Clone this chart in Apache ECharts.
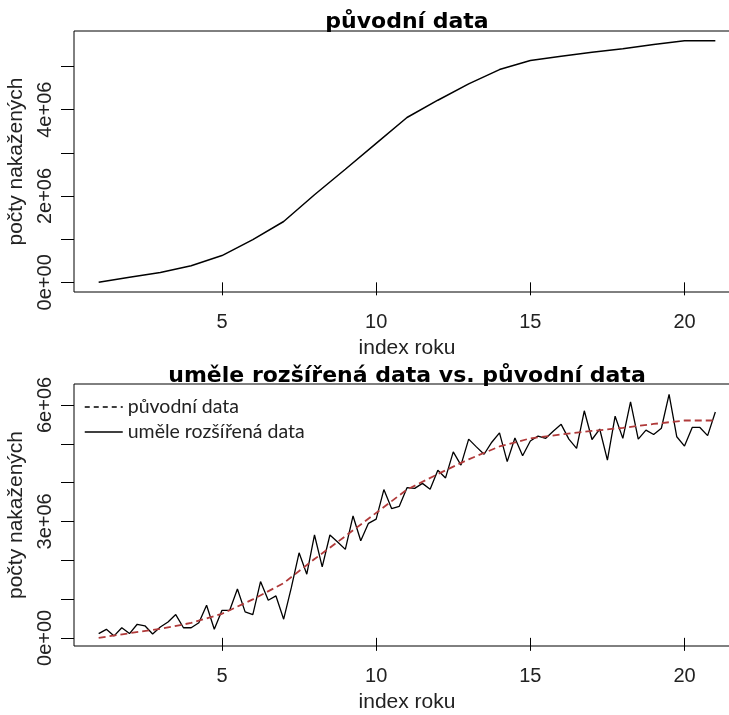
<!DOCTYPE html>
<html>
<head>
<meta charset="utf-8">
<script src="https://cdn.jsdelivr.net/npm/echarts@6/dist/echarts.min.js"></script>
<style>
html,body{margin:0;padding:0;background:#fff;}
#chart{width:729px;height:715px;}
</style>
</head>
<body>
<div id="chart"></div>
<script>
// ---- data ----
const yearIndex = [1,2,3,4,5,6,7,8,9,10,11,12,13,14,15,16,17,18,19,20,21];
const originalCases = [0, 0.12e6, 0.23e6, 0.385e6, 0.62e6, 0.99e6, 1.41e6, 2.03e6, 2.62e6, 3.22e6,
  3.82e6, 4.22e6, 4.60e6, 4.93e6, 5.14e6, 5.24e6, 5.33e6, 5.41e6, 5.51e6, 5.60e6, 5.60e6];
const extendedStep = 0.25;
const extendedCases = [
  0.11e6, 0.22e6, 0.05e6, 0.26e6, 0.11e6, 0.35e6, 0.31e6, 0.10e6, 0.28e6, 0.41e6,
  0.60e6, 0.26e6, 0.26e6, 0.39e6, 0.84e6, 0.22e6, 0.71e6, 0.71e6, 1.26e6, 0.67e6,
  0.60e6, 1.45e6, 0.97e6, 1.08e6, 0.48e6, 1.30e6, 2.19e6, 1.64e6, 2.65e6, 1.83e6,
  2.65e6, 2.47e6, 2.28e6, 3.14e6, 2.50e6, 2.95e6, 3.06e6, 3.82e6, 3.33e6, 3.39e6,
  3.87e6, 3.85e6, 3.98e6, 3.83e6, 4.32e6, 4.12e6, 4.79e6, 4.45e6, 5.12e6, 4.92e6,
  4.73e6, 5.04e6, 5.28e6, 4.54e6, 5.15e6, 4.69e6, 5.07e6, 5.20e6, 5.14e6, 5.33e6,
  5.50e6, 5.12e6, 4.88e6, 5.85e6, 5.11e6, 5.38e6, 4.58e6, 5.71e6, 5.14e6, 6.08e6,
  5.12e6, 5.35e6, 5.24e6, 5.40e6, 6.27e6, 5.18e6, 4.94e6, 5.42e6, 5.42e6, 5.21e6,
  5.82e6
];
const xTicks = [5, 10, 15, 20];
const topYTicks = [0, 1e6, 2e6, 3e6, 4e6, 5e6];
const topYLabelValues = [0, 2e6, 4e6];
const topYLabels = ['0e+00', '2e+06', '4e+06'];
const botYTicks = [0, 1e6, 2e6, 3e6, 4e6, 5e6, 6e6];
const botYLabelValues = [0, 3e6, 6e6];
const botYLabels = ['0e+00', '3e+06', '6e+06'];
const titleTop = 'původní data';
const titleBottom = 'uměle rozšířená data vs. původní data';
const xName = 'index roku';
const yName = 'počty nakažených';
const nameOriginal = 'původní data';
const nameExtended = 'uměle rozšířená data';

// ---- build ----
const topData = yearIndex.map((x, i) => [x, originalCases[i]]);
const extData = extendedCases.map((v, i) => [yearIndex[0] + i * extendedStep, v]);

function labelFmt(values, labels) {
  return function (v) {
    const k = values.findIndex(t => Math.abs(t - v) < 1);
    return k >= 0 ? labels[k] : '';
  };
}

const axisFont = { fontFamily: 'Liberation Sans, Arial, sans-serif', fontSize: 20, color: '#222' };

function xAxisDef(gridIndex) {
  return {
    type: 'value', gridIndex, min: 0.2, max: 21.8,
    axisLine: { show: false },
    splitLine: { show: false },
    axisTick: { show: true, inside: false, length: 13, customValues: xTicks, lineStyle: { color: '#000', width: 1 } },
    axisLabel: Object.assign({ show: true, margin: 20, customValues: xTicks }, axisFont),
    name: xName, nameLocation: 'middle', nameGap: 46,
    nameTextStyle: { fontFamily: 'Liberation Sans, Arial, sans-serif', fontSize: 21, color: '#222' }
  };
}
function yAxisDef(gridIndex, min, max, ticks, lv, ll) {
  return {
    type: 'value', gridIndex, min, max,
    axisLine: { show: false },
    splitLine: { show: false },
    axisTick: { show: true, inside: false, length: 13, customValues: ticks, lineStyle: { color: '#000', width: 1 } },
    axisLabel: Object.assign({ show: true, margin: 19, rotate: 90, customValues: lv, formatter: labelFmt(lv, ll) }, axisFont),
    name: yName, nameLocation: 'middle', nameGap: 38, nameRotate: 90,
    nameTextStyle: { fontFamily: 'Liberation Sans, Arial, sans-serif', fontSize: 21, color: '#222' }
  };
}

const noSymbol = { color: 'rgba(0,0,0,0)', borderColor: 'rgba(0,0,0,0)', borderWidth: 0, opacity: 0 };

const chart = echarts.init(document.getElementById('chart'), null, { renderer: 'canvas' });
chart.setOption({
  animation: false,
  backgroundColor: '#fff',
  title: [
    { text: titleTop, left: 407, top: 22, padding: 0, textAlign: 'center', textVerticalAlign: 'middle',
      textStyle: { fontFamily: 'DejaVu Sans', fontWeight: 'bold', fontSize: 22, color: '#000' } },
    { text: titleBottom, left: 407, top: 376, padding: 0, textAlign: 'center', textVerticalAlign: 'middle',
      textStyle: { fontFamily: 'DejaVu Sans', fontWeight: 'bold', fontSize: 22, color: '#000' } }
  ],
  legend: {
    orient: 'vertical', left: 84, top: 397, padding: 0,
    itemWidth: 38, itemHeight: 14, itemGap: 5,
    textStyle: { fontFamily: 'Lato', fontSize: 19.5, color: '#222', lineHeight: 20 },
    data: [
      { name: nameOriginal, lineStyle: { color: '#000', type: [5, 4], width: 1.5 }, itemStyle: noSymbol },
      { name: nameExtended, lineStyle: { color: '#000', type: 'solid', width: 1.5 }, itemStyle: noSymbol }
    ]
  },
  grid: [
    { left: 74, top: 31, width: 666, height: 261, show: true, borderColor: '#000', borderWidth: 1,
      backgroundColor: 'transparent', containLabel: false, outerBoundsMode: 'none' },
    { left: 74, top: 384, width: 666, height: 262, show: true, borderColor: '#000', borderWidth: 1,
      backgroundColor: 'transparent', containLabel: false, outerBoundsMode: 'none' }
  ],
  xAxis: [xAxisDef(0), xAxisDef(1)],
  yAxis: [
    yAxisDef(0, -0.224e6, 5.824e6, topYTicks, topYLabelValues, topYLabels),
    yAxisDef(1, -0.21e6, 6.54e6, botYTicks, botYLabelValues, botYLabels)
  ],
  series: [
    { name: 'top-original', type: 'line', xAxisIndex: 0, yAxisIndex: 0, data: topData,
      symbol: 'none', showSymbol: false, lineStyle: { color: '#000', width: 1.5 }, silent: true },
    { name: nameExtended, type: 'line', xAxisIndex: 1, yAxisIndex: 1, data: extData,
      symbol: 'none', showSymbol: false, lineStyle: { color: '#000', width: 1.3 }, itemStyle: { color: '#000' } },
    { name: nameOriginal, type: 'line', xAxisIndex: 1, yAxisIndex: 1, data: topData.map(d => d.slice()),
      symbol: 'none', showSymbol: false, lineStyle: { color: '#b03a3a', width: 1.8, type: [7, 4] }, itemStyle: { color: '#b03a3a' } }
  ]
});
</script>
</body>
</html>
